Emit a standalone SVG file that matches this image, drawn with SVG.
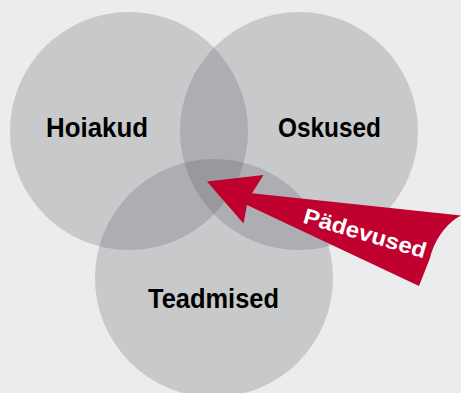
<svg xmlns="http://www.w3.org/2000/svg" width="461" height="393" viewBox="0 0 461 393">
<style>
.c{fill:#55585b;fill-opacity:0.23}
.lbl{font-family:"Liberation Sans",Arial,sans-serif;font-weight:bold;font-size:28px;fill:#000}
.arrow{fill:#c0002f}
.atxt{font-family:"Liberation Sans",Arial,sans-serif;font-weight:bold;font-size:22px;fill:#fff}
</style>
<rect width="461" height="393" fill="#ebeced"/>
<g id="hoiakud">
<circle class="c" cx="129" cy="131" r="119"/>
<text class="lbl" x="46" y="137" textLength="102" lengthAdjust="spacingAndGlyphs">Hoiakud</text>
</g>
<g id="oskused">
<circle class="c" cx="299" cy="131" r="119"/>
<text class="lbl" x="278" y="137" textLength="103" lengthAdjust="spacingAndGlyphs">Oskused</text>
</g>
<g id="teadmised">
<circle class="c" cx="214" cy="278" r="119"/>
<text class="lbl" x="148" y="308" textLength="131" lengthAdjust="spacingAndGlyphs">Teadmised</text>
</g>
<g id="connectors">
<g id="padevused">
<path class="arrow" d="M207,181.5 L263.5,175 L252,193.3 L461,215.5 C450,221 436,235 430,258 L419,286 L247,205 L243.5,223.5 Z"/>
<text class="atxt" transform="translate(302,222.5) rotate(16.4)" x="0" y="0" textLength="127" lengthAdjust="spacingAndGlyphs">Pädevused</text>
</g>
</g>
</svg>
